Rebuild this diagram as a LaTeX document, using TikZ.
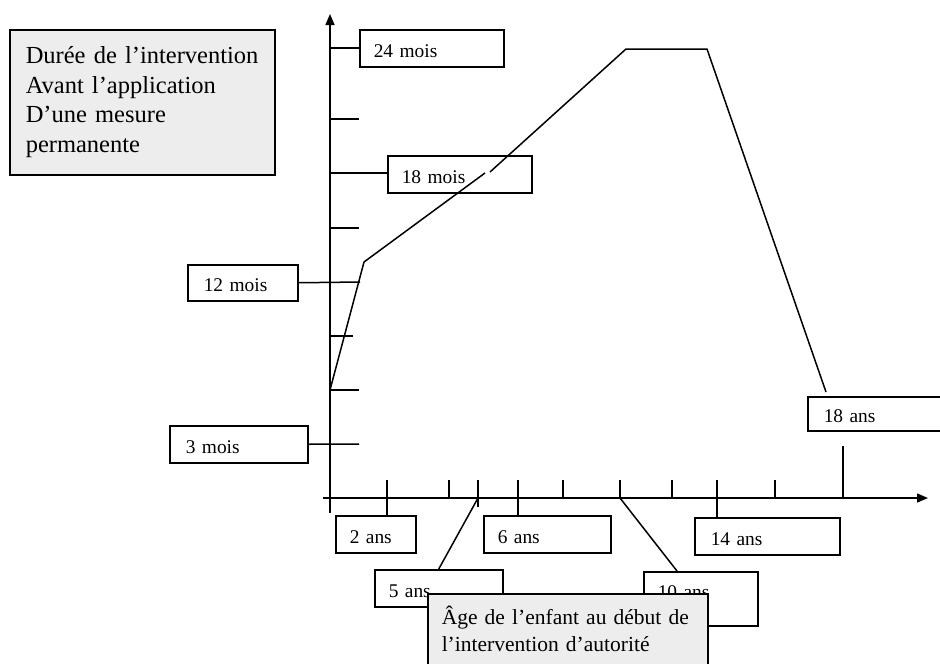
\documentclass[tikz,border=0pt]{standalone}
\usepackage{fontspec}
\setmainfont{Liberation Serif}
\usetikzlibrary{arrows.meta}
\tikzset{
  lbl/.style={draw, line width=1.5pt, anchor=north west, inner xsep=14pt, inner ysep=0pt,
    align=left, text height=22pt, text depth=4pt, font=\fontsize{19.4}{23}\selectfont},
  shaded/.style={lbl, fill=gray!14, text height=, text depth=},
  axisarrow/.style={-{Triangle[length=11pt,width=9pt]}}
}
\begin{document}
\begin{tikzpicture}[x=1pt, y=-1pt, line width=1.5pt]
      \useasboundingbox (0,0) rectangle (940,664);
      \draw[axisarrow] (330,513) -- (330,14);
      \draw[axisarrow] (323,498) -- (928,498);
      \foreach \y in {119,228,390}
        \draw (330,\y) -- (359,\y);
      \draw (330,336) -- (353,336);
      \foreach \x in {449,563,620,672,775}
        \draw (\x,480) -- (\x,498);
      \draw (478,480) -- (478,507);
      \draw
        (330,48) coordinate (y24)
        (330,173) coordinate (y18)
        (360,282) coordinate (y12)
        (359,444) coordinate (y3)
        (387,480) coordinate (x2)
        (478,498) coordinate (x5)
        (518,480) coordinate (x6)
        (620,498) coordinate (x10)
        (717,480) coordinate (x14)
        (843,446) coordinate (t18)
        (843,498) coordinate (x18);
      \draw
        (359,29) node[lbl, text width=116pt, minimum height=37pt] (m24) {24 mois}
        (387,155) node[lbl, text width=116pt, minimum height=37pt] (m18) {18 mois}
        (187,264) node[lbl, inner xsep=16pt, text width=78pt, minimum height=36pt] (m12) {12 mois}
        (169,425) node[lbl, inner xsep=16pt, text width=106pt, minimum height=37pt] (m3) {3 mois}
        (335,515) node[lbl, text width=52pt, minimum height=37pt] (a2) {2 ans}
        (483,515) node[lbl, text width=99pt, minimum height=37pt] (a6) {6 ans}
        (374,569) node[lbl, text width=100pt, minimum height=37pt] (a5) {5 ans}
        (643,571) node[lbl, text width=86pt, minimum height=54pt, text depth=22pt] (a10) {10 ans}
        (694,517) node[lbl, inner xsep=16pt, text width=113pt, minimum height=37pt] (a14) {14 ans}
        (807,396) node[lbl, inner xsep=16pt, text width=113pt, minimum height=34pt] (a18) {18 ans}
        (9,29) node[shaded, inner xsep=16pt, text width=233pt, minimum height=145pt,
          font=\fontsize{24.5}{29.5}\selectfont] (duree)
          {Durée de l’intervention\\Avant l’application\\D’une mesure\\permanente}
        (427,593) node[shaded, inner xsep=14pt, inner ysep=12pt, text width=252pt,
          text depth=30pt, font=\fontsize{21.5}{27}\selectfont] (age)
          {\mbox{Âge de l’enfant au début de}\\\mbox{l’intervention d’autorité}};
      \begin{scope}[-]
        \draw (y24) to (y24 -| m24.west);
        \draw (y18) to (y18 -| m18.west);
        \draw (m12.east) to (y12);
        \draw (m3.east) to (y3);
        \draw (x2) to (x2 |- a2.north);
        \draw (x6) to (x6 |- a6.north);
        \draw (x14) to (x14 |- a14.north);
        \draw (x5) to (a5.north);
        \draw (x10) to ([xshift=34pt]a10.north west);
        \draw (t18) to (x18);
      \end{scope}
      \draw (330,390) -- (364,262) -- (485,173);
      \draw (490,172) -- (626,49) -- (707,49) -- (826,392);
    \end{tikzpicture}
\end{document}
